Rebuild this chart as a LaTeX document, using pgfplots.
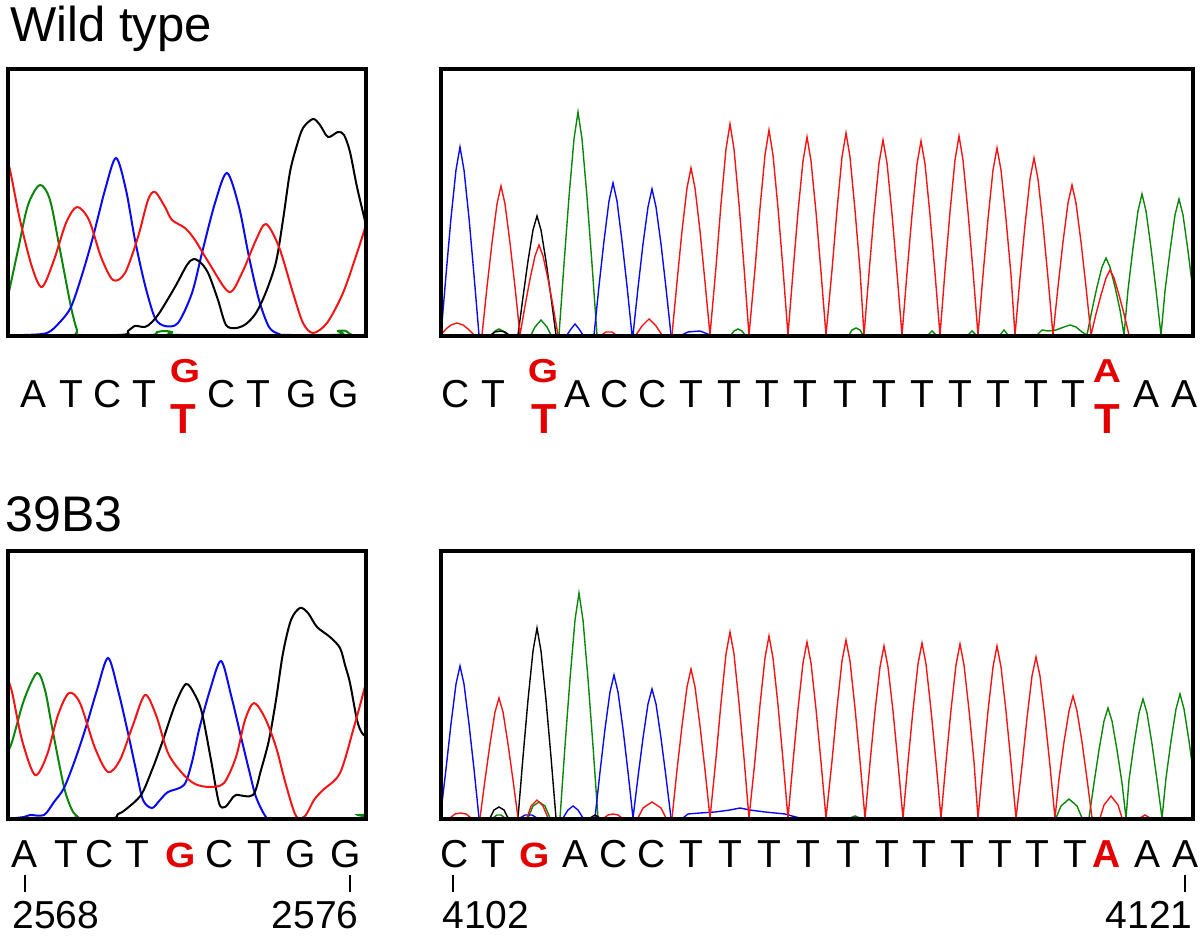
\documentclass[border=0pt]{standalone}
\usepackage{fontspec}
\setmainfont{Liberation Sans}
\usepackage{graphicx}
\usepackage{pgfplots}
\pgfplotsset{compat=1.18}
\definecolor{tred}{RGB}{245,20,20}
\definecolor{tblue}{RGB}{10,10,240}
\definecolor{tgreen}{RGB}{10,135,10}
\definecolor{lred}{RGB}{228,0,0}
\pgfplotsset{chrom/.style={scale only axis, axis on top, xtick=\empty, ytick=\empty,
  y dir=reverse, clip mode=individual, anchor=south west,
  axis line style={line width=2.2pt, line join=miter}}}
\newcommand{\Lf}{\fontsize{19.5}{21}\selectfont}
\newcommand{\Rf}{\fontsize{19.5}{21}\selectfont\bfseries}
\begin{document}
\begin{tikzpicture}
\useasboundingbox (0,0) rectangle (600pt,468pt);
% ---------- top left ----------
\begin{axis}[chrom, at={(4pt,300pt)}, width=179pt, height=133.5pt, xmin=8, xmax=366, ymin=69, ymax=336]
\addplot[tgreen, line width=1pt, smooth] coordinates {(6,300) (8,296) (18,250) (28,205) (40,185) (50,200) (60,250) (71,307) (77,330) (81,335) (150,335) (157,332) (165,331) (172,332) (180,335) (332,335) (338,331) (346,331) (352,335) (368,335)};
\addplot[tblue, line width=1pt, smooth] coordinates {(6,335) (24,335) (47,333) (60,322) (71,307) (82,275) (93,237) (105,190) (116,158) (126,190) (135,240) (145,285) (155,318) (165,326) (178,323) (192,293) (202,253) (215,203) (227,173) (239,207) (249,257) (259,300) (269,327) (279,334) (290,335) (368,335)};
\addplot[black, line width=1pt, smooth] coordinates {(6,335) (118,335) (128,331) (135,326) (145,327) (152,322) (160,312) (175,287) (187,265) (194,259) (202,264) (209,275) (218,300) (226,325) (236,328) (246,324) (256,313) (266,292) (276,262) (283,220) (290,172) (297,145) (303,128) (313,119) (320,125) (328,137) (338,132) (344,135) (350,152) (357,187) (366,225) (368,233)};
\addplot[tred, line width=1pt, smooth] coordinates {(6,160) (10,170) (20,220) (32,267) (42,287) (54,260) (66,223) (77,207) (89,220) (101,257) (113,280) (125,273) (138,237) (148,200) (155,192) (165,207) (172,220) (185,228) (195,240) (209,263) (229,292) (242,273) (256,240) (266,224) (279,247) (293,293) (303,323) (313,333) (327,323) (343,293) (357,253) (366,225) (368,218)};
\end{axis}
% ---------- top right ----------
\begin{axis}[chrom, at={(220.5pt,300pt)}, width=376pt, height=133.5pt, xmin=441, xmax=1193, ymin=69, ymax=336]
\addplot[tgreen, line width=0.7pt] coordinates {(441,335) (491,335) (495,331) (499,329) (503,331) (507,335) (531,335) (535,327) (541,320) (547,327) (551,335) (559,335) (564,264) (569,197) (574,139) (578,112) (582,139) (587,197) (592,264) (597,335) (731,335) (734,331) (738,329) (742,331) (745,335) (849,335) (852,330) (856,328) (860,330) (863,335) (928,335) (932,331) (936,335) (968,335) (972,331) (976,335) (1000,335) (1004,330) (1008,335) (1037,335) (1042,330) (1048,331) (1056,330) (1064,327) (1070,325) (1076,327) (1082,332) (1087,335) (1092,310) (1097,287) (1102,267) (1106,258) (1110,267) (1115,287) (1120,310) (1124,335) (1128,290) (1133,248) (1138,211) (1142,194) (1146,211) (1151,248) (1156,290) (1161,335) (1165,291) (1170,251) (1175,215) (1179,199) (1183,215) (1188,251) (1193,291) (1198,335)};
\addplot[tblue, line width=0.7pt] coordinates {(441,335) (446,275) (451,218) (456,170) (460,147) (464,170) (469,218) (474,275) (479,335) (567,335) (571,329) (575,324) (579,329) (583,335) (594,335) (599,286) (604,241) (609,201) (613,183) (617,201) (622,241) (627,286) (632,335) (633,335) (638,288) (643,244) (648,207) (652,189) (656,207) (661,244) (666,288) (671,335) (682,335) (688,332) (700,331) (710,335) (1195,335)};
\addplot[black, line width=0.7pt] coordinates {(441,335) (491,335) (495,332) (500,331) (505,332) (509,335) (518,335) (523,297) (528,261) (533,230) (537,216) (541,230) (546,261) (551,297) (556,335) (1195,335)};
\addplot[tred, line width=0.7pt] coordinates {(441,335) (446,329) (451,325) (457,323) (463,325) (468,329) (474,335) (482,335) (487,287) (492,243) (497,204) (501,186) (505,204) (510,243) (515,287) (520,335) (525,306) (530,279) (535,256) (539,245) (543,256) (548,279) (553,306) (558,335) (602,335) (606,332) (612,332) (616,335) (636,335) (642,326) (649,319) (656,326) (662,335) (672,335) (677,282) (682,231) (687,188) (691,168) (695,188) (700,231) (705,282) (710,335) (716,267) (721,204) (726,149) (730,124) (734,149) (739,204) (744,267) (749,335) (755,269) (760,208) (765,155) (769,130) (773,155) (778,208) (783,269) (788,335) (793,272) (798,212) (803,161) (807,137) (811,161) (816,212) (821,272) (826,335) (832,270) (837,210) (842,157) (846,133) (850,157) (855,210) (860,270) (864,335) (869,273) (874,214) (879,163) (883,140) (887,163) (892,214) (897,273) (902,335) (907,273) (912,215) (917,164) (921,141) (925,164) (930,215) (935,273) (940,335) (945,271) (950,212) (955,160) (959,136) (963,160) (968,212) (973,271) (978,335) (983,275) (988,219) (993,170) (997,148) (1001,170) (1006,219) (1011,275) (1015,335) (1020,278) (1025,225) (1030,179) (1034,158) (1038,179) (1043,225) (1048,278) (1053,335) (1058,287) (1063,242) (1068,203) (1072,185) (1076,203) (1081,242) (1086,287) (1091,335) (1096,314) (1101,295) (1106,278) (1110,270) (1114,278) (1119,295) (1124,314) (1129,335) (1195,335)};
\end{axis}
% ---------- bottom left ----------
\begin{axis}[chrom, at={(4pt,58.5pt)}, width=179pt, height=134pt, xmin=8, xmax=366, ymin=551, ymax=819]
\addplot[tgreen, line width=1pt, smooth] coordinates {(6,755) (12,742) (24,700) (37,673) (45,690) (52,727) (64,787) (72,810) (78,817) (82,819) (352,819) (358,815) (368,815)};
\addplot[tblue, line width=1pt, smooth] coordinates {(6,819) (24,817) (30,815) (44,815) (54,802) (64,788) (75,760) (86,727) (97,690) (108,658) (118,690) (128,733) (136,770) (143,800) (152,808) (160,800) (168,792) (184,785) (192,762) (199,730) (210,690) (221,661) (231,695) (241,737) (249,770) (256,797) (266,817) (274,819) (368,819)};
\addplot[black, line width=1pt, smooth] coordinates {(6,819) (106,819) (118,814) (125,810) (141,795) (152,770) (162,743) (175,705) (186,684) (195,695) (202,713) (211,760) (219,803) (225,807) (231,800) (236,795) (253,795) (261,770) (269,740) (276,700) (283,653) (291,620) (300,608) (308,613) (317,627) (330,637) (340,648) (345,665) (350,683) (357,720) (362,733) (368,738)};
\addplot[tred, line width=1pt, smooth] coordinates {(6,675) (12,692) (22,740) (35,775) (47,755) (58,715) (69,693) (80,703) (95,748) (108,772) (120,760) (133,725) (145,695) (156,715) (168,753) (182,773) (195,784) (210,787) (224,783) (236,757) (245,720) (254,703) (265,718) (276,747) (286,785) (296,816) (305,816) (314,800) (323,790) (340,773) (354,727) (366,683) (368,676)};
\end{axis}
% ---------- bottom right ----------
\begin{axis}[chrom, at={(220.5pt,58.5pt)}, width=376pt, height=134pt, xmin=441, xmax=1193, ymin=551, ymax=819]
\addplot[tgreen, line width=0.7pt] coordinates {(441,818) (493,818) (497,815) (501,815) (505,818) (528,818) (533,806) (539,802) (545,806) (550,818) (560,818) (565,746) (570,679) (575,620) (579,593) (583,620) (588,679) (593,746) (598,818) (850,818) (855,816) (860,818) (1056,818) (1061,806) (1069,799) (1077,806) (1082,818) (1089,818) (1094,783) (1099,750) (1104,721) (1108,708) (1112,721) (1117,750) (1122,783) (1126,818) (1129,780) (1134,744) (1139,713) (1143,699) (1147,713) (1152,744) (1157,780) (1162,818) (1166,778) (1171,741) (1176,709) (1180,694) (1184,709) (1189,741) (1194,778) (1199,818)};
\addplot[tblue, line width=0.7pt] coordinates {(441,812) (446,769) (451,724) (456,684) (460,666) (464,684) (469,724) (474,769) (479,818) (520,818) (525,815) (532,815) (537,818) (563,818) (568,810) (573,806) (578,810) (583,818) (595,818) (600,772) (605,729) (610,692) (614,675) (618,692) (623,729) (628,772) (633,818) (638,777) (643,738) (648,704) (652,689) (656,704) (661,738) (666,777) (671,818) (683,818) (688,814) (700,813) (715,812) (730,810) (740,808) (750,810) (765,812) (785,814) (792,816) (800,818) (1195,818)};
\addplot[black, line width=0.7pt] coordinates {(441,818) (490,818) (494,810) (499,807) (504,810) (508,818) (518,818) (523,757) (528,700) (533,651) (537,628) (541,651) (546,700) (551,757) (556,818) (590,818) (595,815) (600,818) (1195,818)};
\addplot[tred, line width=0.7pt] coordinates {(441,818) (450,818) (455,814) (461,813) (466,814) (471,818) (480,818) (485,780) (490,744) (495,712) (499,698) (503,712) (508,744) (513,780) (518,818) (527,818) (531,806) (537,800) (543,806) (548,818) (604,818) (608,815) (613,814) (618,815) (622,818) (638,818) (643,808) (652,802) (661,808) (666,818) (672,818) (677,770) (682,726) (687,687) (691,669) (695,687) (700,726) (705,770) (710,818) (716,758) (721,703) (726,654) (730,632) (734,654) (739,703) (744,758) (749,818) (755,760) (760,705) (765,658) (769,636) (773,658) (778,705) (783,760) (788,818) (793,762) (798,709) (803,663) (807,642) (811,663) (816,709) (821,762) (826,818) (832,761) (837,708) (842,661) (846,640) (850,661) (855,708) (860,761) (865,818) (870,763) (875,711) (880,667) (884,646) (888,667) (893,711) (898,763) (903,818) (908,762) (913,710) (918,664) (922,643) (926,664) (931,710) (936,762) (941,818) (946,762) (951,710) (956,665) (960,644) (964,665) (969,710) (974,762) (978,818) (983,763) (988,711) (993,667) (997,646) (1001,667) (1006,711) (1011,763) (1016,818) (1022,766) (1027,718) (1032,676) (1036,657) (1040,676) (1045,718) (1050,766) (1055,818) (1059,779) (1064,742) (1069,711) (1073,696) (1077,711) (1082,742) (1087,779) (1092,818) (1100,818) (1104,805) (1111,796) (1118,805) (1122,818) (1140,818) (1145,815) (1150,818) (1195,818)};
\end{axis}
% ---------- titles ----------
\node[anchor=base west, inner sep=0pt, font=\fontsize{24.5}{26}\selectfont] at (5pt,447pt) {Wild type};
\node[anchor=base west, inner sep=0pt, font=\fontsize{25}{27}\selectfont] at (2.5pt,202pt) {39B3};
% ---------- top letters ----------
\foreach \x/\l in {17/A,35.5/T,54/C,72/T,111/C,129/T,151/G,172/G,
  228/C,246.5/T,289/A,307.5/C,326.5/C,345.5/T,364.5/T,383.5/T,402.5/T,422.5/T,442/T,461/T,480/T,499/T,518/T,536.5/T,573/A,592/A}
  \node[anchor=base, inner sep=0pt, font=\Lf] at (\x pt,264pt) {\l};
\foreach \x/\l in {92.5/G,271.5/G,553.5/A}
  \node[anchor=base, inner sep=0pt, font=\Rf, text=lred] at (\x pt,276.5pt) {\scalebox{1}[0.85]{\l}};
\foreach \x in {91.5,272,553.5}
  \node[anchor=base, inner sep=0pt, font=\fontsize{21}{22}\selectfont\bfseries, text=lred] at (\x pt,251pt) {T};
% ---------- bottom letters ----------
\foreach \x/\l in {12.5/A,33/T,50/C,68.5/T,110/C,129.5/T,150.5/G,173/G,
  227.5/C,246.5/T,287.5/A,307/C,326/C,345.5/T,365/T,384.5/T,404/T,424/T,443.5/T,462/T,481/T,500/T,518.5/T,537.5/T,573.5/A,592.5/A}
  \node[anchor=base, inner sep=0pt, font=\Lf] at (\x pt,34pt) {\l};
\foreach \x in {90.5,267.5}
  \node[anchor=base, inner sep=0pt, font=\Rf, text=lred] at (\x pt,34pt) {\scalebox{1}[0.9]{G}};
\node[anchor=base, inner sep=0pt, font=\Rf, text=lred] at (553.5pt,34pt) {A};
% ---------- position marks ----------
\foreach \x in {12.5,175,226.5,592.5}
  \draw[line width=1.4pt] (\x pt,30.5pt) -- (\x pt,22pt);
\node[anchor=base west, inner sep=0pt, font=\Lf] at (6pt,3.5pt) {2568};
\node[anchor=base east, inner sep=0pt, font=\Lf] at (179.5pt,3.5pt) {2576};
\node[anchor=base west, inner sep=0pt, font=\Lf] at (221pt,3.5pt) {4102};
\node[anchor=base east, inner sep=0pt, font=\Lf] at (596.5pt,3.5pt) {4121};
\end{tikzpicture}
\end{document}
